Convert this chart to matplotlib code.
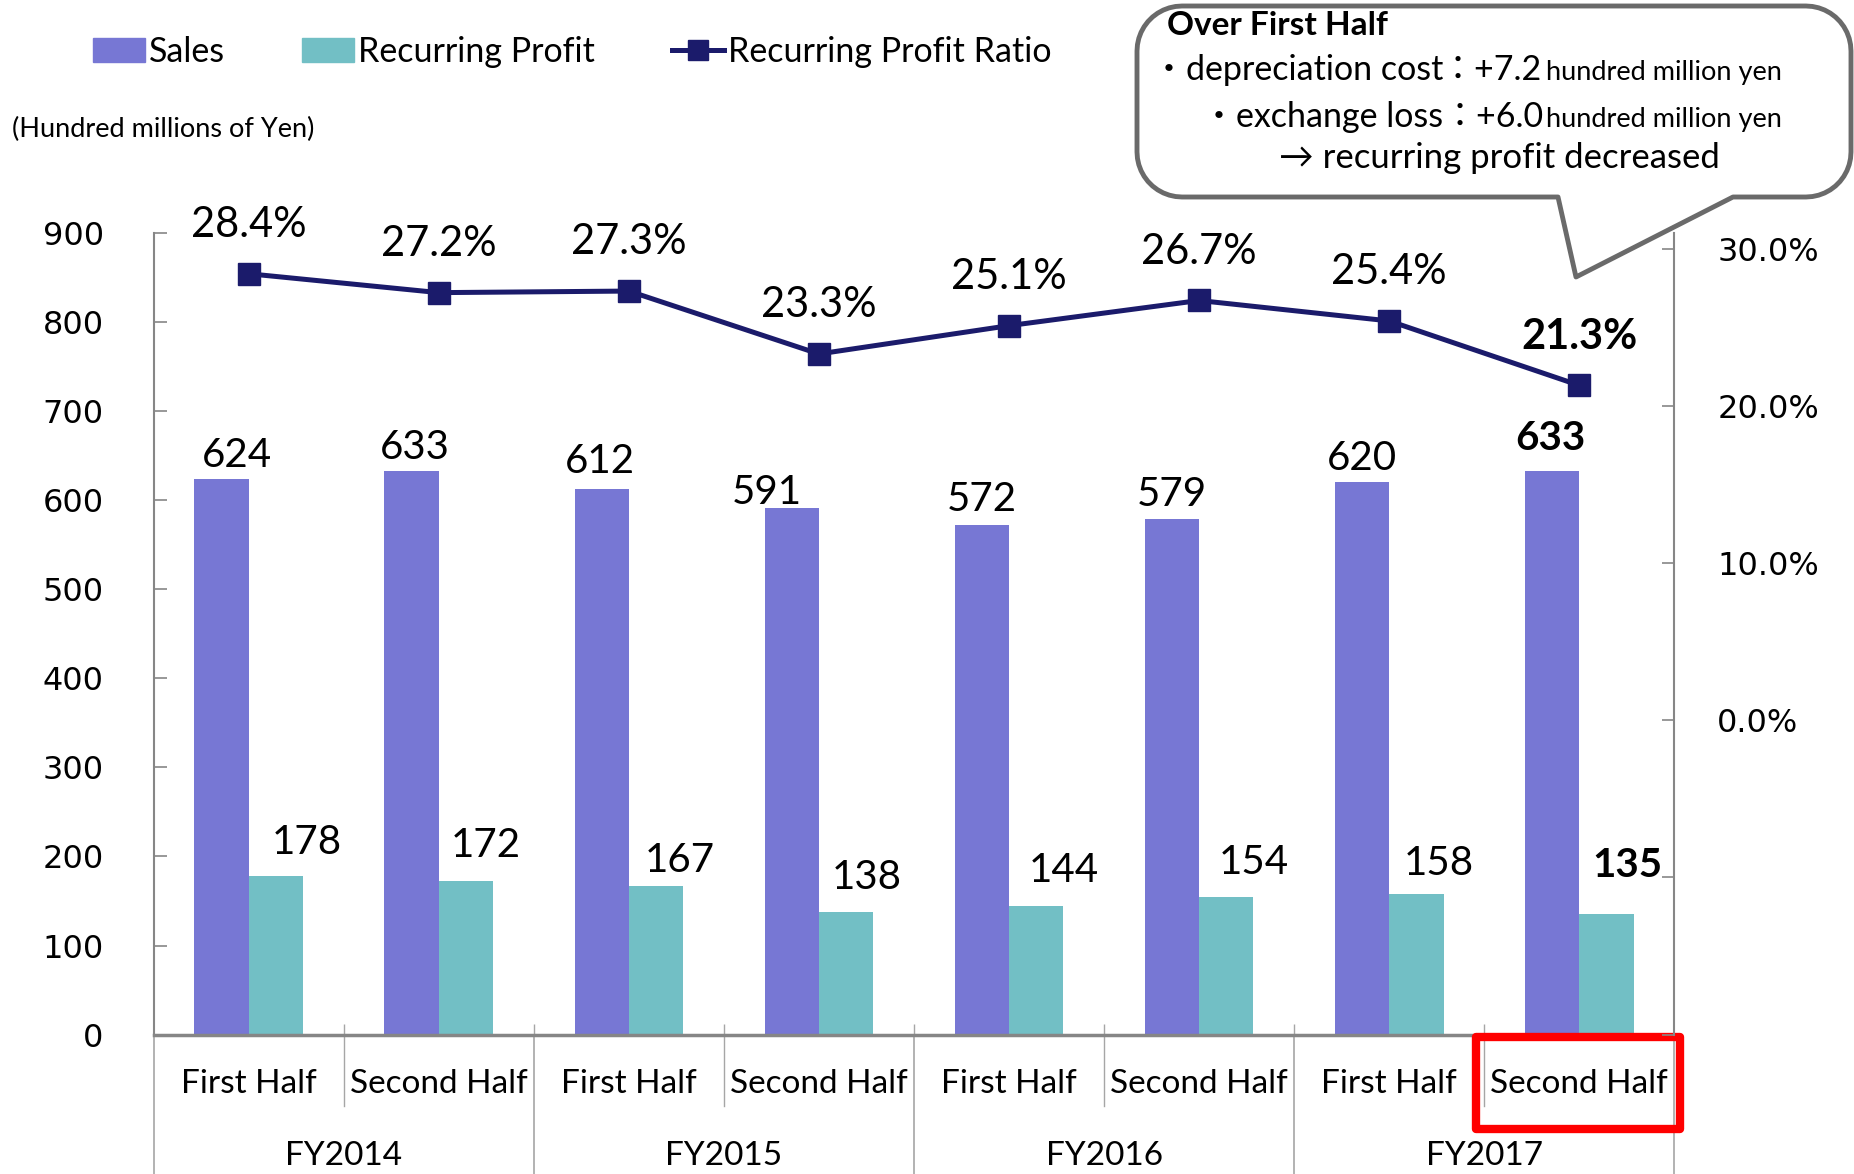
import numpy as np
import matplotlib
matplotlib.use('Agg')
import matplotlib.pyplot as plt
from matplotlib.patches import Patch, Rectangle, Polygon
from matplotlib.lines import Line2D
import matplotlib.transforms as mtransforms
from matplotlib.ticker import FuncFormatter

plt.rcParams['font.family'] = ['Lato', 'Noto Sans CJK JP', 'DejaVu Sans']

# ---------------- data ----------------
halves = ["First Half", "Second Half"] * 4
years = ["FY2014", "FY2015", "FY2016", "FY2017"]
sales = [624, 633, 612, 591, 572, 579, 620, 633]
recurring_profit = [178, 172, 167, 138, 144, 154, 158, 135]
profit_ratio = [28.4, 27.2, 27.3, 23.3, 25.1, 26.7, 25.4, 21.3]  # percent
sales_ticks = list(range(0, 901, 100))
ratio_ticks = [-0.2, -0.1, 0.0, 0.1, 0.2, 0.3]
legend_labels = ["Sales", "Recurring Profit", "Recurring Profit Ratio"]
unit_label = "(Hundred millions of Yen)"
note_title = "Over First Half"
note_items = ["・depreciation cost", "・exchange loss"]
note_values = ["：+7.2", "：+6.0"]
note_unit = "hundred million yen"
note_result = "→ recurring profit decreased"

# ---------------- layout / style ----------------
W, H = 1854, 1174
c_sales = '#7777D4'
c_rp = '#72BFC5'
c_line = '#1B1B6B'
gray = '#868686'
sep_gray = '#A6A6A6'

fig = plt.figure(figsize=(W / 100, H / 100), dpi=100)
ax_l, ax_r, ax_t, ax_b = 153.7, 1674.3, 232.9, 1034.6
ax = fig.add_axes([ax_l / W, 1 - ax_b / H, (ax_r - ax_l) / W, (ax_b - ax_t) / H])

x = np.arange(len(sales))
bw = 0.286
ax.bar(x - bw / 2, sales, bw, color=c_sales, zorder=2)
ax.bar(x + bw / 2, recurring_profit, bw, color=c_rp, zorder=2)
ax.set_xlim(-0.5, 7.5)
ax.set_ylim(0, 900)
ax.set_yticks(sales_ticks)
ax.set_yticklabels([str(t) for t in sales_ticks], fontfamily='DejaVu Sans', fontsize=23)
ax.tick_params(axis='y', direction='in', length=9, width=1.2, color=gray, pad=36)
ax.set_xticks(np.arange(0.5, 7.5, 1.0))
ax.tick_params(axis='x', direction='in', length=8, width=1, color=sep_gray, labelbottom=False)
for s in ['top', 'right']:
    ax.spines[s].set_visible(False)
ax.spines['left'].set_color(gray)
ax.spines['left'].set_linewidth(1.5)
ax.spines['bottom'].set_color(gray)
ax.spines['bottom'].set_linewidth(2.5)
ax.spines['bottom'].set_zorder(3)

# value labels for bars (offsets in points)
sales_off = [(11, 17), (2, 17), (-1, 20), (-18, 11), (0, 18.5), (0, 17.5), (0, 17.5), (-1, 23.5)]
rp_off = [(22, 24), (14, 25.5), (17, 18), (15, 24.5), (20, 25.5), (20, 25), (16, 21.5), (15, 35)]
for i in range(len(sales)):
    bold = 'bold' if i == len(sales) - 1 else 'normal'
    ax.annotate(str(sales[i]), (x[i] - bw / 2, sales[i]), xytext=sales_off[i],
                textcoords='offset points', ha='center', va='center',
                fontsize=29, fontweight=bold, zorder=4)
    ax.annotate(str(recurring_profit[i]), (x[i] + bw / 2, recurring_profit[i]),
                xytext=rp_off[i], textcoords='offset points', ha='center',
                va='center', fontsize=29, fontweight=bold, zorder=4)

# category axis below
blend = mtransforms.blended_transform_factory(ax.transData, ax.transAxes)
for i, h in enumerate(halves):
    ax.text(x[i], -0.062, h, transform=blend, ha='center', va='center', fontsize=24)
for k, yname in enumerate(years):
    ax.text(2 * k + 0.5, -0.152, yname, transform=blend, ha='center', va='center', fontsize=24)
for b in np.arange(0.5, 7.5, 2.0):
    ax.plot([b, b], [0, -0.0886], transform=blend, clip_on=False, color=sep_gray, lw=1)
for b in [-0.5, 1.5, 3.5, 5.5, 7.5]:
    ax.plot([b, b], [0, -0.2], transform=blend, clip_on=False, color=sep_gray, lw=1.2)

# highlight box around last category label
ax.add_patch(Rectangle((6.455, -0.118), 7.53 - 6.455, 0.115, transform=blend,
                       fill=False, edgecolor='#FF0000', lw=6, clip_on=False,
                       joinstyle='round', zorder=5))

# secondary axis: ratio line
ax2 = ax.twinx()
ratio_frac = [v / 100 for v in profit_ratio]
ax2.plot(x, ratio_frac, color=c_line, lw=3.6, marker='s', ms=16, zorder=3)
ax2.set_ylim(-0.2, 0.31)
ax2.set_yticks(ratio_ticks)
ax2.yaxis.set_major_formatter(FuncFormatter(lambda v, p: f"{v * 100:.1f}%" if v >= -1e-9 else ""))
for lbl in ax2.get_yticklabels():
    lbl.set_fontfamily('DejaVu Sans')
ax2.tick_params(axis='y', direction='in', length=9, width=1.2, color=gray, pad=31, labelsize=23)
for s in ['top', 'left', 'bottom']:
    ax2.spines[s].set_visible(False)
ax2.spines['right'].set_color(gray)
ax2.spines['right'].set_linewidth(1.5)
for i, v in enumerate(profit_ratio):
    bold = 'bold' if i == len(profit_ratio) - 1 else 'normal'
    ax2.annotate(f"{v:.1f}%", (x[i], ratio_frac[i]), xytext=(0, 35),
                 textcoords='offset points', ha='center', va='center',
                 fontsize=30, fontweight=bold)

# legend
handles = [Patch(color=c_sales), Patch(color=c_rp),
           Line2D([], [], color=c_line, lw=3.6, marker='s', ms=14)]
fig.legend(handles, legend_labels, loc='center left', bbox_to_anchor=(93 / W, 1 - 52 / H),
           ncol=3, frameon=False, fontsize=24.5, handlelength=1.53, handleheight=0.68,
           handletextpad=0.12, columnspacing=2.26, borderpad=0, borderaxespad=0)

fig.text(12 / W, 1 - 129 / H, unit_label, ha='left', va='center', fontsize=19.5)

# callout balloon
L, R, T, B, r = 1137, 1851, 6, 197, 45
bl, br, tip = 1558, 1733, (1576, 277)
def arc(cx, cy, a0, a1, n=12):
    a = np.linspace(np.radians(a0), np.radians(a1), n)
    return list(zip(cx + r * np.cos(a), cy + r * np.sin(a)))
pts = [(L + r, T), (R - r, T)]
pts += arc(R - r, T + r, -90, 0)
pts += [(R, B - r)]
pts += arc(R - r, B - r, 0, 90)
pts += [(br, B), tip, (bl, B), (L + r, B)]
pts += arc(L + r, B - r, 90, 180)
pts += [(L, T + r)]
pts += arc(L + r, T + r, 180, 270)
pts_fig = [(px / W, 1 - py / H) for px, py in pts]
fig.patches.append(Polygon(pts_fig, closed=True, transform=fig.transFigure,
                           facecolor='white', edgecolor='#6A6A6A', lw=3.5,
                           joinstyle='round', zorder=10))

def ftext(px, py, s, **kw):
    fig.text(px / W, 1 - py / H, s, va='baseline', zorder=11, **kw)

ftext(1167, 35, note_title, ha='left', fontsize=24, fontweight='bold')
# (item start, value start, unit start, baseline) in pixels
line_pos = [(1152, 1441, 1546, 80), (1202, 1443, 1546, 126.7)]
for (xi, xv, xu, yb), item, val in zip(line_pos, note_items, note_values):
    ftext(xi, yb, item, ha='left', fontsize=24.5)
    ftext(xv, yb, val, ha='left', fontsize=24.5)
    ftext(xu, yb, note_unit, ha='left', fontsize=19.5)
ftext(1279, 168, note_result, ha='left', fontsize=25)

fig.savefig('out.png', dpi=100)
